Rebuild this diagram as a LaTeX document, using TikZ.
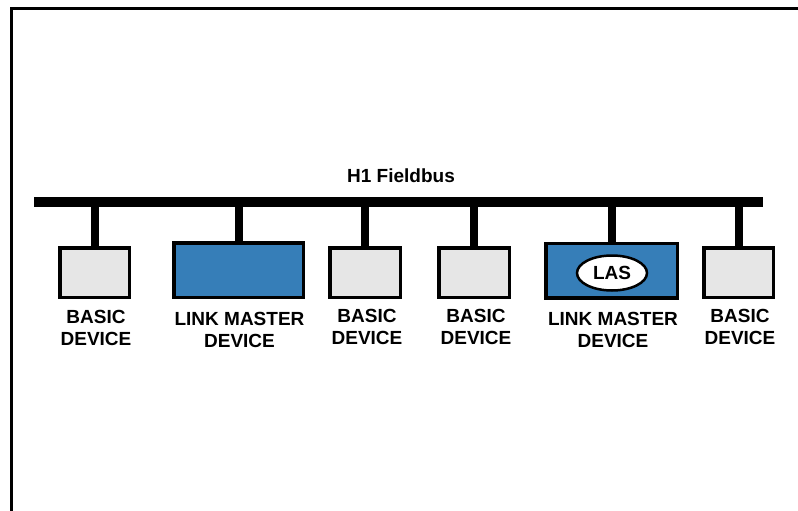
\documentclass[tikz,border=0pt]{standalone}
\usepackage{fontspec}
\setmainfont{Liberation Sans}
\usetikzlibrary{shapes.geometric}
\definecolor{boxgray}{RGB}{230,230,230}
\definecolor{lmblue}{RGB}{54,126,184}
\begin{document}
\begin{tikzpicture}[x=1pt,y=-1pt,
  basicbox/.style={draw=black,line width=3.5pt,fill=boxgray,minimum width=69.5pt,minimum height=49.5pt,inner sep=0pt},
  lmbox/.style={draw=black,line width=3.5pt,fill=lmblue,minimum height=54.5pt,inner sep=0pt},
  drop/.style={line width=8pt,line cap=butt},
  lbl/.style={font=\fontsize{19pt}{22pt}\selectfont\bfseries,align=center,inner sep=0pt,anchor=north},
]
\useasboundingbox (0,0) rectangle (798,511);
\fill[white] (0,0) rectangle (798,511);
% frame
\draw[line width=3pt] (11.5,511) -- (11.5,8.7) -- (798,8.7);
% bus
\coordinate (busL) at (34,202);
\coordinate (busR) at (763,202);
\draw[line width=10pt,line cap=butt] (busL) -- (busR);
\node[font=\fontsize{19pt}{22pt}\selectfont\bfseries,anchor=base,inner sep=0pt] (title) at (401,182) {H1 Fieldbus};
% devices
\node[basicbox] (b1) at (94.5,272.5) {};
\node[lmbox,minimum width=129.5pt] (lm1) at (238.5,270) {};
\node[basicbox,minimum width=70.5pt] (b2) at (365,272.5) {};
\node[basicbox,minimum width=70.5pt] (b3) at (474,272.5) {};
\node[lmbox,minimum width=131.5pt] (lm2) at (611.5,270.5) {};
\node[basicbox] (b4) at (738.5,272.5) {};
\node[ellipse,draw=black,line width=2.5pt,fill=white,minimum width=70pt,minimum height=35pt,inner sep=0pt,font=\fontsize{19pt}{22pt}\selectfont\bfseries] (las) at (612,273) {LAS};
% drops
\foreach \n in {b1,lm1,b2,b3,lm2,b4}{
  \draw[drop] (\n.north) -- (\n.north |- busL);
}
% labels
\node[lbl] (t1) at (96,310) {BASIC\\DEVICE};
\node[lbl] (t2) at (239.5,312) {LINK MASTER\\DEVICE};
\node[lbl] (t3) at (367,309) {BASIC\\DEVICE};
\node[lbl] (t4) at (476,309) {BASIC\\DEVICE};
\node[lbl] (t5) at (613,312) {LINK MASTER\\DEVICE};
\node[lbl] (t6) at (740,309) {BASIC\\DEVICE};
\end{tikzpicture}
\end{document}
